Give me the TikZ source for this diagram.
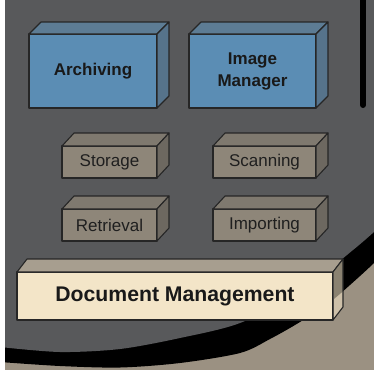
\documentclass[tikz,border=0pt]{standalone}
\usepackage{fontspec}
\setmainfont{Liberation Sans}
\definecolor{bggray}{HTML}{58595B}
\definecolor{taupe}{HTML}{9B9182}
\definecolor{bluefront}{HTML}{5B8DB4}
\definecolor{bluetop}{HTML}{5D7C94}
\definecolor{blueside}{HTML}{56738B}
\definecolor{smfront}{HTML}{8E8679}
\definecolor{smtop}{HTML}{7F796F}
\definecolor{smside}{HTML}{6D6860}
\definecolor{cream}{HTML}{F3E5C8}
\definecolor{creamtop}{HTML}{A79E8F}
\definecolor{edge}{HTML}{262626}
\tikzset{
  face/.style={draw=edge, line width=1.1pt, line join=round},
  front/.style={face, rectangle, inner sep=0pt, outer sep=0pt, align=center},
  bigbox/.style={front, fill=bluefront, minimum height=74pt, text=black!90,
    font=\fontsize{17}{22}\selectfont\bfseries},
  smallbox/.style={front, fill=smfront, minimum width=95pt, minimum height=32pt,
    text=black!88, font=\fontsize{17}{20}\selectfont},
  docbox/.style={front, fill=cream, minimum width=316pt, minimum height=48pt,
    text=black!90, font=\fontsize{21.2}{24}\selectfont\bfseries},
}
\newcommand{\cubefaces}[5]{%
  \filldraw[face, fill=#4] (#1.north west) -- ++(#2,#3) -- ([shift={(#2,#3)}]#1.north east) -- (#1.north east) -- cycle;
  \filldraw[face, fill=#5] (#1.north east) -- ++(#2,#3) -- ([shift={(#2,#3)}]#1.south east) -- (#1.south east) -- cycle;
}
\begin{document}
\begin{tikzpicture}[x=1pt, y=-1pt]
\useasboundingbox (0,0) rectangle (374,370);
\fill[white] (0,0) rectangle (374,370);
\begin{scope}
  \clip (5,0) rectangle (374,370);
  \fill[taupe] (5,0) rectangle (374,370);
  \fill[black] plot[smooth] coordinates {(392,244) (374,263) (350,285) (330,302) (300,322) (270,339) (240,353) (180,363) (120,367.5) (60,366) (0,362)} -- (0,-2) -- (392,-2) -- cycle;
  \fill[bggray] plot[smooth] coordinates {(392,216) (374,232) (353,250) (300,292) (240,323) (180,338) (120,349) (60,352) (0,347)} -- (0,-2) -- (392,-2) -- cycle;
  \draw[line width=6pt, line cap=round] (363,-5) -- (363,105);
\end{scope}
% top row
\node[bigbox, minimum width=128pt] (arch) at (93,71) {Archiving};
\cubefaces{arch}{12}{-12}{bluetop}{blueside}
\node[bigbox, minimum width=127pt] (imgmgr) at (252.5,71) {Image\\Manager};
\cubefaces{imgmgr}{12}{-12}{bluetop}{blueside}
% middle rows
\node[smallbox] (storage) at (109.5,162) {Storage};
\cubefaces{storage}{12}{-13}{smtop}{smside}
\node[smallbox, minimum width=103pt] (scanning) at (264.5,162) {Scanning};
\cubefaces{scanning}{12}{-13}{smtop}{smside}
\node[smallbox] (retrieval) at (109.5,225) {Retrieval};
\cubefaces{retrieval}{12}{-13}{smtop}{smside}
\node[smallbox, minimum width=103pt] (importing) at (264.5,225) {Importing};
\cubefaces{importing}{12}{-13}{smtop}{smside}
% bottom
\node[docbox] (docmgmt) at (175,296) {Document Management};
\filldraw[face, fill=creamtop] (docmgmt.north west) -- ++(10,-13) -- ([shift={(10,-13)}]docmgmt.north east) -- (docmgmt.north east) -- cycle;
\filldraw[face, fill=cream, fill opacity=0.57] (docmgmt.north east) -- ++(10,-13) -- ([shift={(10,-13)}]docmgmt.south east) -- (docmgmt.south east) -- cycle;
\end{tikzpicture}
\end{document}
